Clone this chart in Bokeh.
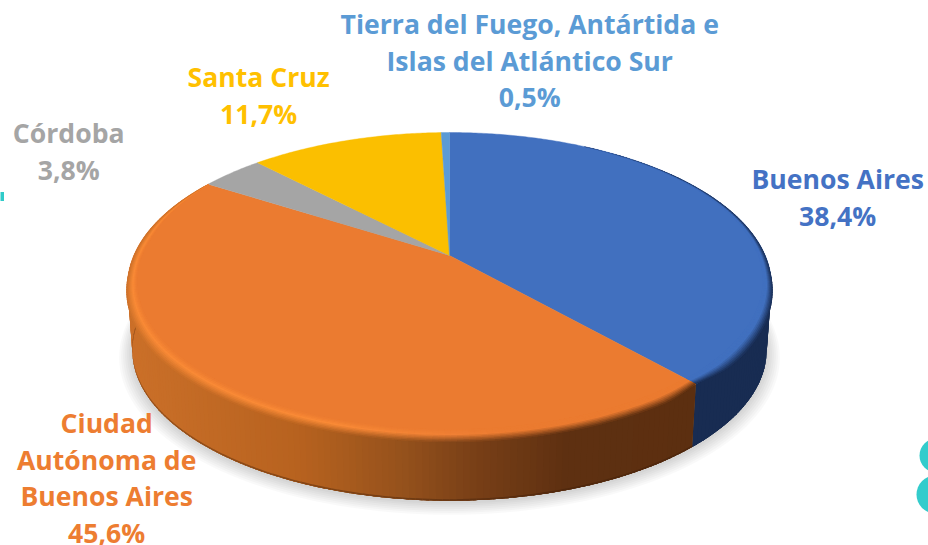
import math
from bokeh.plotting import figure
from bokeh.models import Range1d
from bokeh.core.properties import value
from bokeh.embed import file_html
from bokeh.resources import INLINE

# ---- data (clockwise from the top of the pie)
provinces = ["Buenos Aires", "Ciudad Autónoma de Buenos Aires", "Córdoba", "Santa Cruz",
             "Tierra del Fuego, Antártida e Islas del Atlántico Sur"]
shares = [38.4, 45.6, 3.8, 11.7, 0.5]
slice_colors = ["#4170BF", "#EB7B30", "#A5A5A5", "#FBBF00", "#5B9BD5"]
label_colors = ["#4472C4", "#ED7D31", "#A5A5A5", "#FFC000", "#5B9BD5"]
label_lines = [["Buenos Aires"], ["Ciudad", "Autónoma de", "Buenos Aires"], ["Córdoba"], ["Santa Cruz"],
               ["Tierra del Fuego, Antártida e", "Islas del Atlántico Sur"]]
label_anchor = [(837.2, 178.5), (106.2, 422.5), (68.2, 132.5), (258.2, 76.5), (529.2, 23.5)]
LINE_H = 36.6

# ---- perspective geometry of the tilted disc
K = 0.196
CX, TOP_Y, BOT_Y = 449.0, 255.0, 320.0
A, B = 322 * math.sqrt(1 - K * K), 147.1
BOT_SCALE = 0.985


def top(t, r=1.0):
    u, v = r * math.sin(t), -r * math.cos(t)
    w = 1 - K * v
    return CX + A * u / w, TOP_Y + B * v / w


def bottom(t, r=1.0, dy=0.0):
    u, v = r * math.sin(t), -r * math.cos(t)
    w = 1 - K * v
    return CX + BOT_SCALE * A * u / w, BOT_Y + dy + BOT_SCALE * B * v / w


def hex2(c):
    return [int(c[i:i + 2], 16) for i in (1, 3, 5)]


def mix(c1, c2, f):
    f = max(0.0, min(1.0, f))
    a, b = hex2(c1), hex2(c2)
    return "#%02x%02x%02x" % tuple(round(a[i] + (b[i] - a[i]) * f) for i in range(3))


def ramp(stops, x):
    if x <= stops[0][0]:
        return stops[0][1]
    for (x0, c0), (x1, c1) in zip(stops, stops[1:]):
        if x <= x1:
            return mix(c0, c1, (x - x0) / (x1 - x0))
    return stops[-1][1]


def clamp(x):
    return max(0.0, min(1.0, x))


ORANGE_WALL = [(130, "#CB7029"), (300, "#B7621F"), (400, "#96521C"), (470, "#7A4017"), (565, "#5E3011"), (700, "#5C2F10")]
ORANGE_HL = [(130, "#F98A36"), (330, "#F98A36"), (450, "#F08035"), (520, "#EB7B30")]
BLUE_WALL = "#182C52"

p = figure(width=928, height=545, output_backend="svg", toolbar_location=None,
           x_range=Range1d(0, 928), y_range=Range1d(545, 0), min_border=0)
p.axis.visible = False
p.grid.visible = False
p.outline_line_color = None
p.background_fill_color = "white"
p.border_fill_color = None

# page decoration
p.rect([1.5], [196], width=4, height=9, fill_color="#2FCBC9", line_color=None)
p.circle([936, 935], [455, 494], radius=[17, 19], fill_color="#33CCCC", line_color=None)

# soft shadow
N = 180
ring = [2 * math.pi * i / N for i in range(N + 1)]
for s in range(7):
    r = 1.040 - s * 0.006
    pts = [bottom(t, r, 5 - s * 0.5) for t in ring]
    p.patch([q[0] for q in pts], [q[1] for q in pts], fill_color="black", fill_alpha=0.022, line_color=None)

# slice angle limits
total = sum(shares)
limits = [0.0]
for v in shares:
    limits.append(limits[-1] + v / total * 2 * math.pi)


def strip_span(a, dt):
    """Strip from a with overlap into the next one; the two slices meet exactly at limits[1]."""
    mid = a + dt / 2
    b = a + 2.5 * dt
    if mid < limits[1]:
        b = min(b, limits[1])
    elif a - dt < limits[1]:
        a = limits[1]
    return a, b, mid


# side wall
xs, ys, cs = [], [], []
t0 = math.radians(92)
t1 = math.radians(268)
steps = 176
dt = (t1 - t0) / steps
for i in range(steps):
    a, b, mid = strip_span(t0 + dt * i, dt)
    b = min(b, t1)
    xm = bottom(mid)[0]
    col = BLUE_WALL if mid < limits[1] else ramp(ORANGE_WALL, xm)
    tp1, tp2, bt1, bt2 = top(a), top(b), bottom(a), bottom(b)
    cut = 0.975
    m1 = (tp1[0] + (bt1[0] - tp1[0]) * cut, tp1[1] + (bt1[1] - tp1[1]) * cut)
    m2 = (tp2[0] + (bt2[0] - tp2[0]) * cut, tp2[1] + (bt2[1] - tp2[1]) * cut)
    xs.append([tp1[0], tp2[0], bt2[0], bt1[0]])
    ys.append([tp1[1], tp2[1], bt2[1], bt1[1]])
    cs.append(col)
    xs.append([m1[0], m2[0], bt2[0], bt1[0]])
    ys.append([m1[1], m2[1], bt2[1], bt1[1]])
    cs.append(mix(col, "#3a1c08", 0.4) if mid >= limits[1] else col)
p.patches(xs, ys, fill_color=cs, line_color=None)

# top faces
for i, c in enumerate(slice_colors):
    n = max(2, int((limits[i + 1] - limits[i]) * 100))
    pts = [(CX, TOP_Y)] + [top(limits[i] + (limits[i + 1] - limits[i]) * j / n) for j in range(n + 1)]
    p.patch([q[0] for q in pts], [q[1] for q in pts], fill_color=c, line_color=c, line_width=0.4)


# rim bevel: inner and outer reach of the blurred edge, as fractions of the radius
def bevel_reach(t):
    v = -math.cos(t)
    outer = 0.016 * clamp((v - 0.1) / 0.5) * clamp(abs(t - limits[1]) / 0.12)
    if t < limits[1]:
        inner = 0.004 + 0.030 * clamp((v + 0.85) / 1.4)
    else:
        inner = (0.026 + 0.014 * max(v, 0)) * clamp((v + 0.62) / 0.5)
    return inner, outer


xs, ys, cs = [], [], []
LAYERS = 9
steps = 300
t0, t1 = math.radians(30), limits[2]
dt = (t1 - t0) / steps
for i in range(steps):
    a, b, mid = strip_span(t0 + dt * i, dt)
    b = min(b, t1)
    is_blue = mid < limits[1]
    xm = top(mid)[0]
    surf = slice_colors[0] if is_blue else slice_colors[1]
    wall = BLUE_WALL if is_blue else ramp(ORANGE_WALL, xm)
    hl = surf if is_blue else ramp(ORANGE_HL, xm)
    ia, oa = bevel_reach(a)
    ib, ob = bevel_reach(b)
    for j in range(LAYERS):
        f0, f1 = j / LAYERS, min(1.0, (j + 1.6) / LAYERS)
        fm = (j + 0.5) / LAYERS
        if fm < 0.4:
            col = mix(surf, hl, fm / 0.4)
        else:
            col = mix(hl, wall, (fm - 0.4) / 0.6)
        pa0, pb0 = top(a, 1 - ia + (ia + oa) * f0), top(b, 1 - ib + (ib + ob) * f0)
        pa1, pb1 = top(a, 1 - ia + (ia + oa) * f1), top(b, 1 - ib + (ib + ob) * f1)
        xs.append([pa0[0], pb0[0], pb1[0], pa1[0]])
        ys.append([pa0[1], pb0[1], pb1[1], pa1[1]])
        cs.append(col)
p.patches(xs, ys, fill_color=cs, line_color=None)

# labels
tx, ty, tt, tc = [], [], [], []
for i, (name, v) in enumerate(zip(provinces, shares)):
    lines = label_lines[i] + [f"{v:.1f}".replace(".", ",") + "%"]
    for j, line in enumerate(lines):
        tx.append(label_anchor[i][0])
        ty.append(label_anchor[i][1] + j * LINE_H)
        tt.append(line)
        tc.append(label_colors[i])
p.text(tx, ty, text=tt, text_color=tc, text_font=value("Open Sans"), text_font_style="bold",
       text_font_size="26.6px", text_align="center", text_baseline="middle")

open("out.html", "w").write(file_html(p, INLINE))
